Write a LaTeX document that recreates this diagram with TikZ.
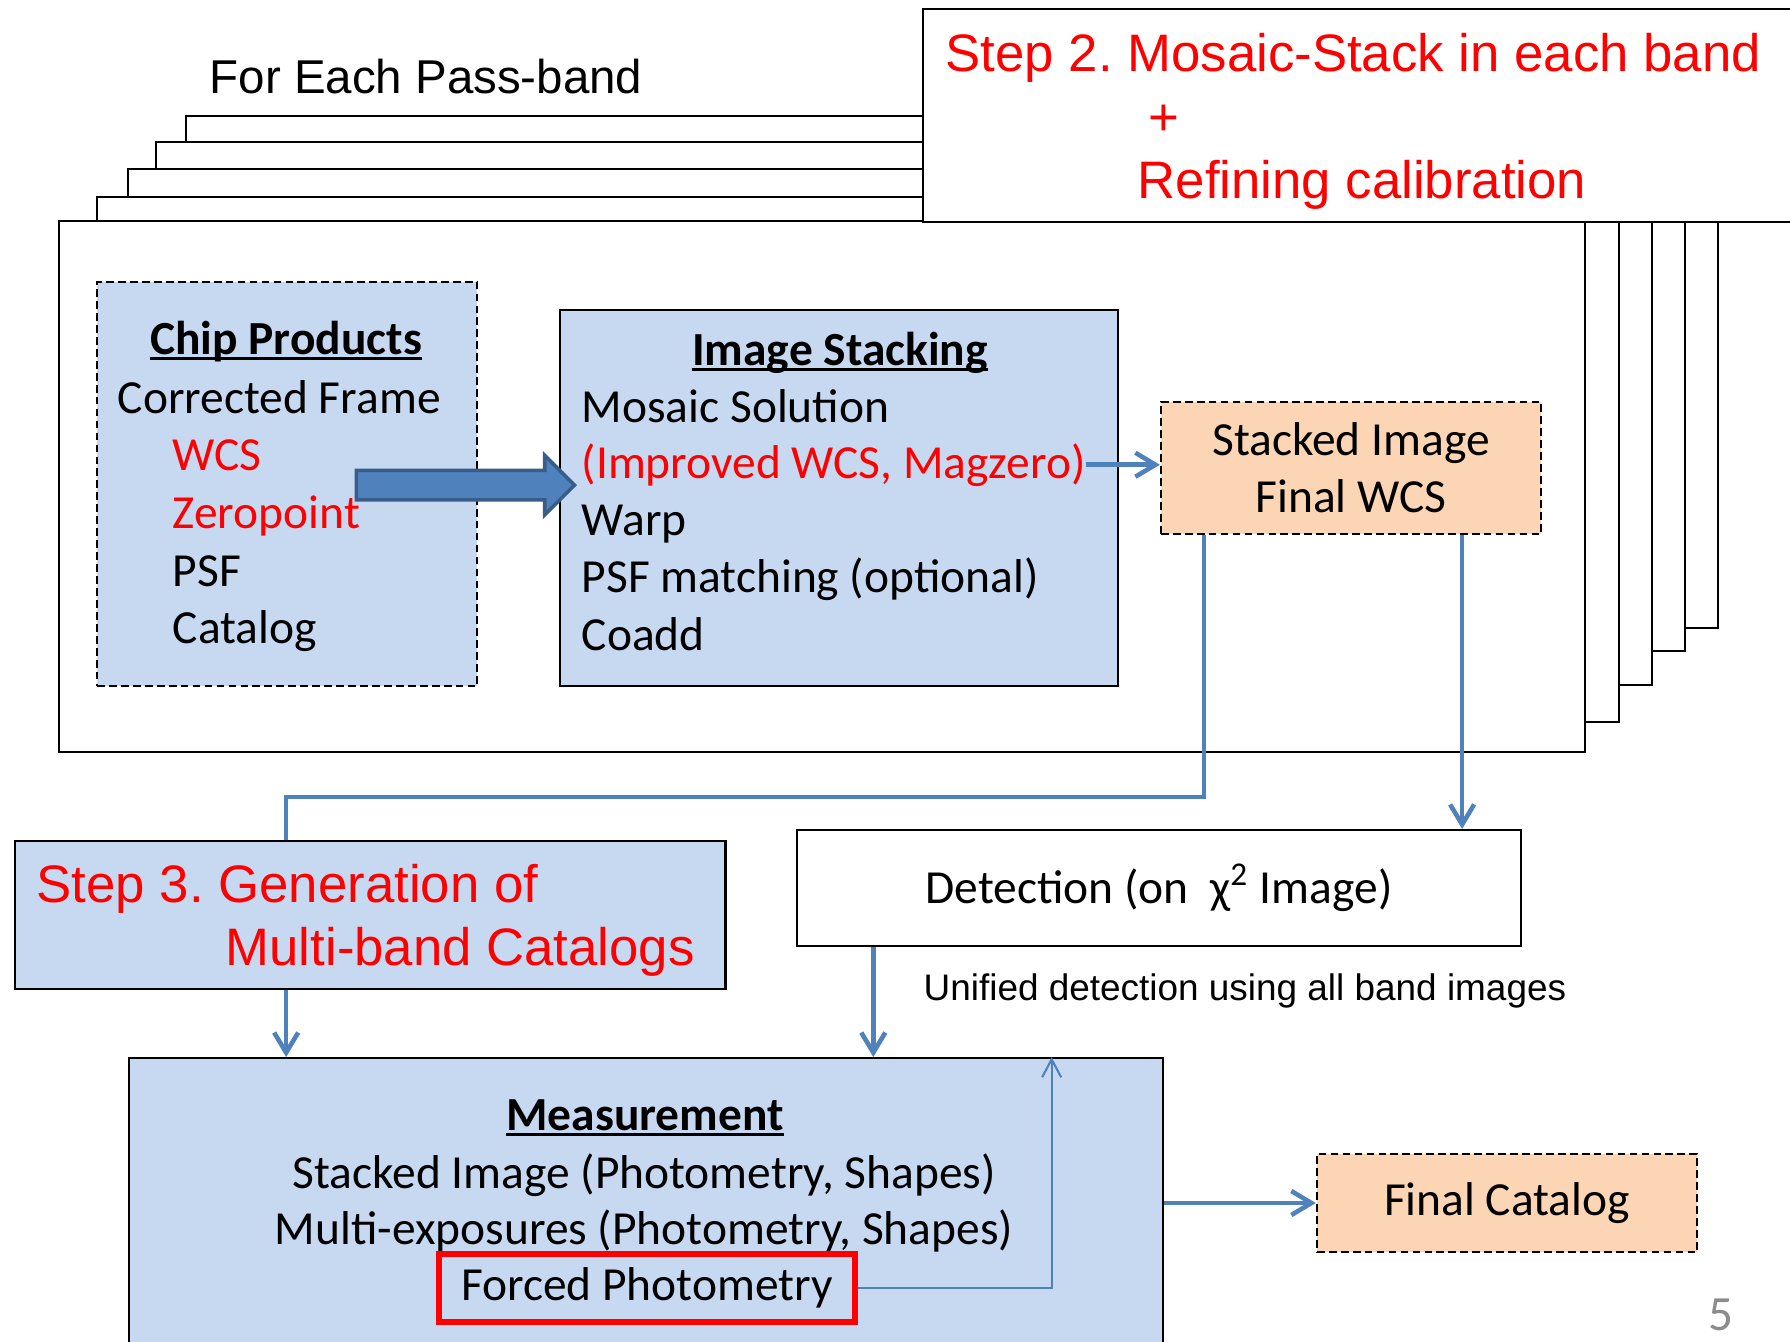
\documentclass[tikz,border=0pt]{standalone}
\usepackage{fontspec}
\setmainfont{Carlito}
\newfontfamily\arialfont{Liberation Sans}
\newcommand\ulhead[1]{\setbox0\hbox{#1}\rlap{\rule[-1.6pt]{\wd0}{0.8pt}}\box0}
\frenchspacing
\usepackage{tikz}
\usetikzlibrary{arrows.meta,positioning,shapes.arrows}
\definecolor{boxblue}{RGB}{198,217,241}
\definecolor{peach}{RGB}{252,213,181}
\definecolor{flowblue}{RGB}{79,129,189}
\definecolor{arrowedge}{RGB}{56,93,138}
\definecolor{pagegrey}{RGB}{140,140,140}

\begin{document}
\begin{tikzpicture}[x=0.01cm,y=-0.01cm,>={Straight Barb[length=2mm,width=2.4mm]},
  lbl/.style={inner sep=0pt,font=\fontsize{13.5}{16.2}\selectfont},
  head/.style={inner sep=0pt,font=\fontsize{13.5}{16.2}\selectfont\bfseries,anchor=base},
  steptxt/.style={inner sep=0pt,text=red,font=\arialfont\fontsize{15}{18}\selectfont,anchor=base west},
  bluebox/.style={draw,line width=.6pt,fill=boxblue,anchor=north west},
  dashbox/.style={bluebox,dash pattern=on 2.2pt off 1.2pt},
  peachbox/.style={draw,line width=.6pt,fill=peach,dash pattern=on 2.2pt off 1.2pt,lbl,align=center},
  flow/.style={->,draw=flowblue,line width=1.3pt},
  page/.style={draw,line width=.5pt,fill=white}]
\path[fill=white,use as bounding box] (0,0) rectangle (1790,1341);

% pages of the pass-band stack, back to front
\draw[page] (186,116) rectangle (1718,628);
\draw[page] (156,142) rectangle (1685,651);
\draw[page] (128,169) rectangle (1652,685);
\draw[page] (97,197) rectangle (1619,722);
\draw[page] (59,221) rectangle (1585,752);
\draw[page] (923,9) rectangle (1800,222);

\node (pass) [inner sep=0pt,font=\arialfont\fontsize{13.5}{16}\selectfont,anchor=base west] at (209,93) {For Each Pass-band};
\node (s2a) [steptxt] at (945,71) {Step 2. Mosaic-Stack in each band};
\node (s2b) [steptxt,anchor=center] at (1164,120) {+};
\node (s2c) [steptxt] at (1137,198) {Refining calibration};

% chip products
\node (chip) [dashbox,minimum width=3.80cm,minimum height=4.04cm] at (96,281) {};
\node (chiphead) [head] at (286,354) {\ulhead{Chip Products}};
\node (cf) [lbl,anchor=base west] at (117,413) {Corrected Frame};
\node (wcs) [lbl,text=red,anchor=base west] at ([xshift=.55cm,yshift=-.57cm]cf.base west) {WCS};
\node (zp) [lbl,text=red,anchor=base west] at ([yshift=-.58cm]wcs.base west) {Zeropoint};
\node (psf) [lbl,anchor=base west] at ([yshift=-.58cm]zp.base west) {PSF};
\node (cat) [lbl,anchor=base west] at ([yshift=-.57cm]psf.base west) {Catalog};

% stacking
\node (stack) [bluebox,minimum width=5.58cm,minimum height=3.76cm] at (559,309) {};
\node (stackhead) [head] at (840,365) {\ulhead{Image Stacking}};
\node (mos) [lbl,anchor=base west] at (581,422) {Mosaic Solution};
\node (impr) [lbl,text=red,anchor=base west] at ([yshift=-.56cm]mos.base west) {(Improved WCS, Magzero)};
\node (warp) [lbl,anchor=base west] at ([yshift=-.57cm]impr.base west) {Warp};
\node (psfm) [lbl,anchor=base west] at ([yshift=-.57cm]warp.base west) {PSF matching (optional)};
\node (coadd) [lbl,anchor=base west] at ([yshift=-.58cm]psfm.base west) {Coadd};

\node (feed) [single arrow,draw=arrowedge,fill=flowblue,line width=1pt,inner sep=0pt,
  text height=0.13cm,text depth=0.13cm,
  minimum height=2.18cm,minimum width=0.56cm,single arrow head extend=0.15cm,
  single arrow head indent=0pt,anchor=tip] at ([xshift=.18cm,yshift=.13cm]stack.west) {};

\node (stacked) [peachbox,minimum width=3.80cm,minimum height=1.32cm] at (1351,468) {Stacked Image\\Final WCS};

% multi-band part
\node (step3) [bluebox,minimum width=7.10cm,minimum height=1.48cm] at (14,840) {};
\node (s3a) [steptxt] at (36,902) {Step 3. Generation of};
\node (s3b) [steptxt] at (225,965) {Multi-band Catalogs};

\node (detect) [draw,line width=.6pt,fill=white,lbl,minimum width=7.23cm,minimum height=1.16cm] at (1159,888) {Detection (on~~χ\textsuperscript{2} Image)};
\node (unif) [inner sep=0pt,font=\arialfont\fontsize{10.5}{12}\selectfont,anchor=base west] at (923,1000) {Unified detection using all band images};

\node (measure) [bluebox,minimum width=10.33cm,minimum height=3.2cm] at (128,1057) {};
\node (mhead) [head] at (645,1130) {\ulhead{Measurement}};
\node (mst) [lbl,anchor=base] at (644,1188) {Stacked Image (Photometry, Shapes)};
\node (mmx) [lbl,anchor=base] at (644,1244) {Multi-exposures (Photometry, Shapes)};
\node (forced) [draw=red,line width=1.7pt,lbl,minimum width=4.15cm,minimum height=0.68cm] at (647,1288) {Forced Photometry};

\node (final) [peachbox,minimum width=3.80cm,minimum height=0.98cm] at (1507,1203) {Final Catalog};
\node (pgno) [inner sep=0pt,text=pagegrey,font=\fontsize{14}{16}\selectfont,anchor=base] at (1721,1330) {5};

\draw[flow] (impr.east) -- (impr.east -| stacked.west);
\draw[flow,-] ([xshift=.44cm]stacked.south west) -- ++(0,262) -| ([xshift=2.72cm]step3.north west);
\draw[flow] ([xshift=-.80cm]stacked.south east) -- ([xshift=-.80cm]stacked.south east |- detect.north);
\draw[flow] ([xshift=2.72cm]step3.south west) -- ([xshift=2.72cm]step3.south west |- measure.north);
\draw[flow] ([xshift=.77cm]detect.south west) -- ([xshift=.77cm]detect.south west |- measure.north);
\draw[flowblue,line width=.6pt,-{Straight Barb[length=1.8mm,width=1.9mm]}] (forced.east) -| ([xshift=-1.12cm]measure.north east);
\draw[flow] (measure.east |- final.west) -- (final.west);
\end{tikzpicture}
\end{document}
